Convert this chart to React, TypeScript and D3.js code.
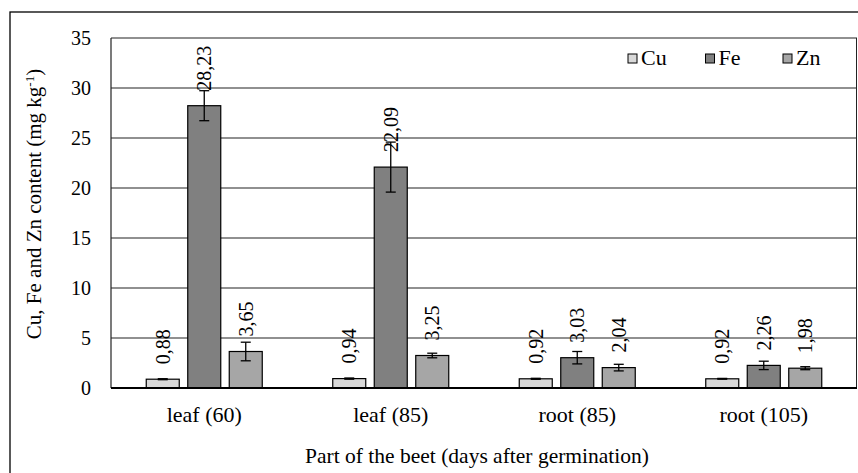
import React from "react";
import * as d3 from "d3";

const categories = ["leaf (60)", "leaf (85)", "root (85)", "root (105)"];
const seriesNames = ["Cu", "Fe", "Zn"];
const cuValues = [0.88, 0.94, 0.92, 0.92];
const feValues = [28.23, 22.09, 3.03, 2.26];
const znValues = [3.65, 3.25, 2.04, 1.98];
const cuErrors = [0.05, 0.06, 0.05, 0.04];
const feErrors = [1.5, 2.5, 0.62, 0.42];
const znErrors = [0.93, 0.23, 0.33, 0.15];
const yTicks = [0, 5, 10, 15, 20, 25, 30, 35];
const colors = ["#d9d9d9", "#808080", "#a6a6a6"];

const W = 858;
const H = 473;
const plot = { left: 111, right: 857, top: 38, bottom: 388 };
const FONT = "'Liberation Serif', 'Times New Roman', serif";

const fmt = (v: number) => v.toFixed(2).replace(".", ",");

export default function App() {
  const values = [cuValues, feValues, znValues];
  const errors = [cuErrors, feErrors, znErrors];

  const x0 = d3.scaleBand<string>().domain(categories).range([plot.left, plot.right]).paddingInner(0).paddingOuter(0);
  const y = d3.scaleLinear().domain([0, 35]).range([plot.bottom, plot.top]);

  const barW = 33;
  const step = 41.5;

  return (
    <svg width={W} height={H} style={{ position: "absolute", left: 0, top: 0, background: "#fff" }}>
      {/* outer frame */}
      <rect x={10} y={12} width={900} height={500} fill="#fff" stroke="#000" strokeWidth={1.3} />

      {/* gridlines */}
      {yTicks.map((t) => (
        <line key={t} x1={plot.left} x2={plot.right} y1={y(t)} y2={y(t)} stroke="#222" strokeWidth={1.2} />
      ))}
      <line x1={plot.left} x2={plot.left} y1={plot.top} y2={plot.bottom} stroke="#222" strokeWidth={1.2} />
      <line x1={plot.right - 0.5} x2={plot.right - 0.5} y1={plot.top} y2={plot.bottom} stroke="#222" strokeWidth={1} />

      {/* y tick labels */}
      {yTicks.map((t) => (
        <text key={t} x={91} y={y(t) + 6.5} textAnchor="end" fontFamily={FONT} fontSize={20} fill="#000">
          {t}
        </text>
      ))}

      {/* bars */}
      {categories.map((c, i) => {
        const cx = (x0(c) as number) + x0.bandwidth() / 2;
        return seriesNames.map((s, j) => {
          const v = values[j][i];
          const e = errors[j][i];
          const bx = cx + (j - 1) * step - barW / 2;
          const mid = bx + barW / 2;
          const top = y(v);
          return (
            <g key={c + s}>
              <rect x={bx} y={top} width={barW} height={plot.bottom - top} fill={colors[j]} stroke="#000" strokeWidth={1.2} />
              <line x1={mid} x2={mid} y1={y(v + e)} y2={y(v - e)} stroke="#000" strokeWidth={1.3} />
              <line x1={mid - 5} x2={mid + 5} y1={y(v + e)} y2={y(v + e)} stroke="#000" strokeWidth={1.3} />
              <line x1={mid - 5} x2={mid + 5} y1={y(v - e)} y2={y(v - e)} stroke="#000" strokeWidth={1.3} />
              <text
                transform={`translate(${mid + 7},${top - 15}) rotate(-90)`}
                fontFamily={FONT}
                fontSize={20}
                fill="#000"
              >
                {fmt(v)}
              </text>
            </g>
          );
        });
      })}

      {/* x axis */}
      <line x1={plot.left} x2={plot.right} y1={plot.bottom} y2={plot.bottom} stroke="#000" strokeWidth={2} />
      {categories.map((c) => (
        <text
          key={c}
          x={(x0(c) as number) + x0.bandwidth() / 2}
          y={422}
          textAnchor="middle"
          fontFamily={FONT}
          fontSize={22}
          fill="#000"
        >
          {c}
        </text>
      ))}

      {/* axis titles */}
      <text x={477} y={463} textAnchor="middle" fontFamily={FONT} fontSize={21.5} fill="#000">
        Part of the beet (days after germination)
      </text>
      <text transform="translate(41,204) rotate(-90)" textAnchor="middle" fontFamily={FONT} fontSize={21} fill="#000">
        Cu, Fe and Zn content (mg kg
        <tspan baselineShift="super" fontSize={13}>-1</tspan>)
      </text>

      {/* legend */}
      {seriesNames.map((s, j) => (
        <g key={s} transform={`translate(${628 + j * 77.5},54)`}>
          <rect x={0} y={0} width={9} height={9} fill={colors[j]} stroke="#000" strokeWidth={1} />
          <text x={13} y={11} fontFamily={FONT} fontSize={22} fill="#000">
            {s}
          </text>
        </g>
      ))}
    </svg>
  );
}
